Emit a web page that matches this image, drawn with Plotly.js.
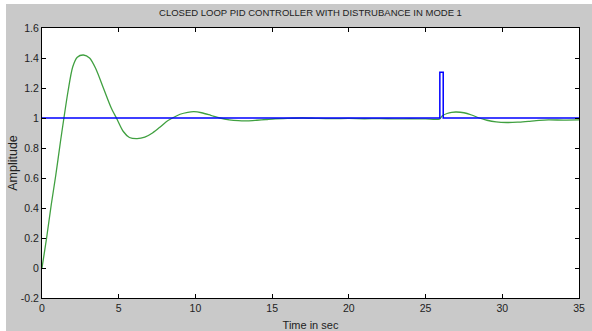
<!DOCTYPE html>
<html>
<head>
<meta charset="utf-8">
<script src="https://cdn.plot.ly/plotly-3.0.1.min.js"></script>
<style>
html,body{margin:0;padding:0;background:#ffffff;width:592px;height:331px;overflow:hidden;}
#chart{position:absolute;left:6px;top:4px;width:586px;height:327px;}
</style>
</head>
<body>
<div id="chart"></div>
<script>
// Green: closed-loop response with disturbance
var respTime = [0, 0.3, 0.6, 0.9, 1.2, 1.4, 1.7, 2.0, 2.3, 2.7, 3.1, 3.5, 4.0, 4.5, 4.9, 5.3, 5.7, 6.2, 6.7, 7.2, 7.7, 8.1, 8.5, 9.0, 9.5, 9.9, 10.4, 11.0, 11.6, 12.2, 12.8, 13.4, 14.0, 14.6, 15.2, 16, 17, 18, 19, 20, 21, 22, 23, 24, 25, 25.9, 26.1, 26.4, 26.7, 27.0, 27.5, 28.0, 28.5, 29.0, 29.6, 30.3, 31.0, 31.7, 32.4, 33, 34, 35];
var respValue = [0, 0.2, 0.42, 0.62, 0.84, 0.98, 1.18, 1.34, 1.405, 1.42, 1.40, 1.33, 1.20, 1.07, 0.99, 0.91, 0.87, 0.862, 0.872, 0.90, 0.94, 0.975, 1.0, 1.025, 1.038, 1.042, 1.035, 1.018, 1.0, 0.988, 0.982, 0.981, 0.985, 0.99, 0.995, 0.998, 1.0, 0.997, 0.996, 0.997, 0.995, 0.996, 0.994, 0.995, 0.994, 0.993, 1.015, 1.03, 1.038, 1.04, 1.035, 1.02, 1.0, 0.985, 0.974, 0.97, 0.972, 0.978, 0.984, 0.987, 0.986, 0.987];
// Blue: setpoint with disturbance pulse
var refTime = [0, 25.93, 25.93, 26.15, 26.15, 35];
var refValue = [1, 1, 1.305, 1.305, 1, 1];
// Axis ticks
var xTicks = [0, 5, 10, 15, 20, 25, 30, 35];
var yTicks = [-0.2, 0, 0.2, 0.4, 0.6, 0.8, 1, 1.2, 1.4, 1.6];
var yTickText = ['-0.2', '0', '0.2', '0.4', '0.6', '0.8', '1', '1.2', '1.4', '1.6'];

var tickFont = {family: 'Liberation Sans, Arial, sans-serif', size: 10.5, color: '#222'};

var traces = [
  {x: respTime, y: respValue, mode: 'lines', line: {color: '#40a040', width: 1.3, shape: 'spline', smoothing: 0.8}, hoverinfo: 'none'},
  {x: refTime, y: refValue, mode: 'lines', line: {color: '#0000ff', width: 1.5}, hoverinfo: 'none'}
];

var axisCommon = {
  showline: true, linecolor: '#000', linewidth: 1, mirror: 'allticks',
  ticks: 'inside', ticklen: 4, tickcolor: '#000', tickwidth: 1,
  showgrid: false, zeroline: false, tickfont: tickFont
};

var layout = {
  width: 586, height: 327,
  paper_bgcolor: '#c9c9c9', plot_bgcolor: '#ffffff',
  margin: {l: 35.5, r: 12.5, t: 24, b: 33},
  showlegend: false,
  title: {text: 'CLOSED LOOP PID CONTROLLER WITH DISTRUBANCE IN MODE 1',
    font: {family: 'Liberation Sans, Arial, sans-serif', size: 9.5, color: '#222'},
    x: 0.5, xref: 'paper', y: 0.972, yref: 'container', yanchor: 'middle'},
  xaxis: Object.assign({}, axisCommon, {range: [0, 35], tickvals: xTicks,
    title: {text: 'Time in sec', font: {family: 'Liberation Sans, Arial, sans-serif', size: 11, color: '#222'}, standoff: 11}}),
  yaxis: Object.assign({}, axisCommon, {range: [-0.2, 1.6], tickvals: yTicks, ticktext: yTickText,
    title: {text: 'Amplitude', font: {family: 'Liberation Sans, Arial, sans-serif', size: 12.5, color: '#222'}, standoff: 7}})
};

Plotly.newPlot('chart', traces, layout, {staticPlot: true, displayModeBar: false});
</script>
</body>
</html>
